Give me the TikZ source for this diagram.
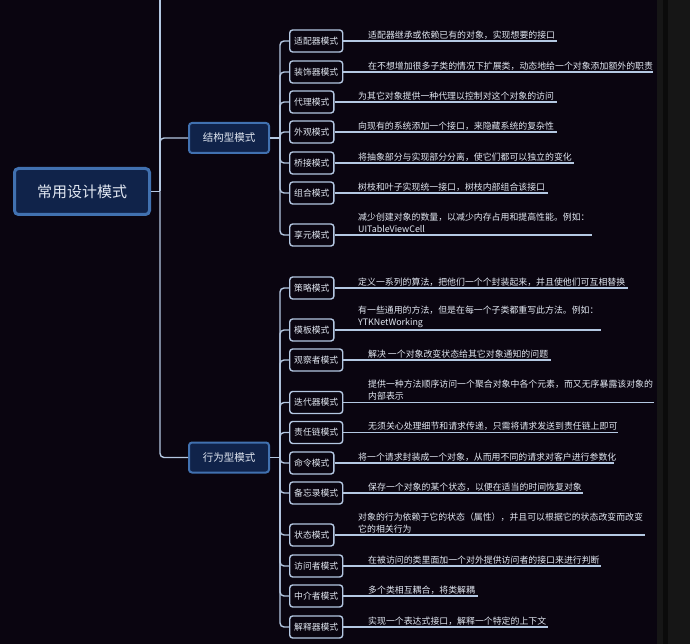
\documentclass[tikz,border=0pt]{standalone}
\usepackage{fontspec}
\setmainfont{Noto Sans CJK SC}
\definecolor{bg}{HTML}{0A0510}
\definecolor{ln}{HTML}{B4C8E2}
\definecolor{txt}{HTML}{E2E8F2}
\definecolor{midfill}{HTML}{10234A}
\definecolor{midedge}{HTML}{4171B0}
\definecolor{stripeA}{HTML}{161616}
\definecolor{stripeB}{HTML}{0B0B0B}
\tikzset{
  conn/.style={draw=ln, line width=1.4pt},
  leafbox/.style={draw=ln, line width=1.4pt, fill=bg, rounded corners=3pt, anchor=west,
    minimum height=22pt, inner xsep=4.5pt, inner ysep=0pt, text=txt,
    font=\fontsize{8.8}{10}\selectfont},
  midbox/.style={draw=midedge, line width=2pt, fill=midfill, rounded corners=3pt,
    minimum width=80pt, minimum height=30pt, inner sep=0pt, text=txt,
    font=\fontsize{10.5}{12}\selectfont},
  rootbox/.style={draw=midedge, line width=3pt, fill=midfill, rounded corners=4pt,
    minimum width=135pt, minimum height=46pt, inner sep=0pt, text=txt,
    font=\fontsize{15}{18}\selectfont},
  desc/.style={anchor=south west, align=left, inner sep=0pt, text=txt,
    font=\fontsize{8.9}{12}\selectfont},
}
\newcommand\leaf[7]{%
  \node[leafbox] (#1) at (289,#2) {#3};
  \coordinate (#1e) at (#4,#2);
  \draw[conn] (#1.east) -- (#1e);
  \draw[conn, rounded corners=4pt] (#7) |- (#1.west);
  \node[desc] (#1d) at (#5,#2-1.8) {#6};
}
\begin{document}
\begin{tikzpicture}[x=1pt,y=-1pt]
\useasboundingbox (0,0) rectangle (690,644);
\fill[bg] (0,0) rectangle (690,644);
\fill[stripeA] (657,0) rectangle (690,644);
\fill[stripeB] (663,0) rectangle (668,644);

% root and trunk
\node[rootbox] (root) at (82,191.5) {常用设计模式};
\coordinate (rj) at (160,191.5);
\coordinate (top) at (160,0);
\draw[conn] (root.east) -- (rj);
\draw[conn] (rj) -- (top);

\node[midbox] (struct) at (229,138) {结构型模式};
\node[midbox] (behav) at (229,457.5) {行为型模式};
\draw[conn, rounded corners=4pt] (rj) |- (struct.west);
\draw[conn, rounded corners=4pt] (rj) |- (behav.west);

\coordinate (sj) at (280,138);
\coordinate (bj) at (280,457.5);
\draw[conn] (struct.east) -- (sj);
\draw[conn] (behav.east) -- (bj);

% structural
\leaf{a1}{41}{适配器模式}{557}{368}{适配器继承或依赖已有的对象，实现想要的接口}{sj}
\leaf{a2}{72}{装饰器模式}{653}{368}{在不想增加很多子类的情况下扩展类，动态地给一个对象添加额外的职责}{sj}
\leaf{a3}{102}{代理模式}{557}{358}{为其它对象提供一种代理以控制对这个对象的访问}{sj}
\leaf{a4}{132}{外观模式}{557}{358}{向现有的系统添加一个接口，来隐藏系统的复杂性}{sj}
\leaf{a5}{163}{桥接模式}{574}{358}{将抽象部分与实现部分分离，使它们都可以独立的变化}{sj}
\leaf{a6}{193}{组合模式}{548}{358}{树枝和叶子实现统一接口，树枝内部组合该接口}{sj}
\leaf{a7}{235}{享元模式}{592}{358}{减少创建对象的数量，以减少内存占用和提高性能。例如：\\UITableViewCell}{sj}

% behavioural
\leaf{b1}{288}{策略模式}{628}{358}{定义一系列的算法，把他们一个个封装起来，并且使他们可互相替换}{bj}
\leaf{b2}{330}{模板模式}{601}{358}{有一些通用的方法，但是在每一个子类都重写此方法。例如：\\YTKNetWorking}{bj}
\leaf{b3}{360}{观察者模式}{551}{368}{解决 一个对象改变状态给其它对象通知的问题}{bj}
\leaf{b4}{402.5}{迭代器模式}{654}{368}{提供一种方法顺序访问一个聚合对象中各个元素，而又无序暴露该对象的\\内部表示}{bj}
\leaf{b5}{432.5}{责任链模式}{618}{368}{无须关心处理细节和请求传递，只需将请求发送到责任链上即可}{bj}
\leaf{b6}{463}{命令模式}{614}{358}{将一个请求封装成一个对象，从而用不同的请求对客户进行参数化}{bj}
\leaf{b7}{493}{备忘录模式}{583}{368}{保存一个对象的某个状态，以便在适当的时间恢复对象}{bj}
\leaf{b8}{535}{状态模式}{645}{358}{对象的行为依赖于它的状态（属性），并且可以根据它的状态改变而改变\\它的相关行为}{bj}
\leaf{b9}{566}{访问者模式}{601}{368}{在被访问的类里面加一个对外提供访问者的接口来进行判断}{bj}
\leaf{b10}{596}{中介者模式}{478}{368}{多个类相互耦合，将类解耦}{bj}
\leaf{b11}{627}{解释器模式}{548}{368}{实现一个表达式接口，解释一个特定的上下文}{bj}
\end{tikzpicture}
\end{document}
